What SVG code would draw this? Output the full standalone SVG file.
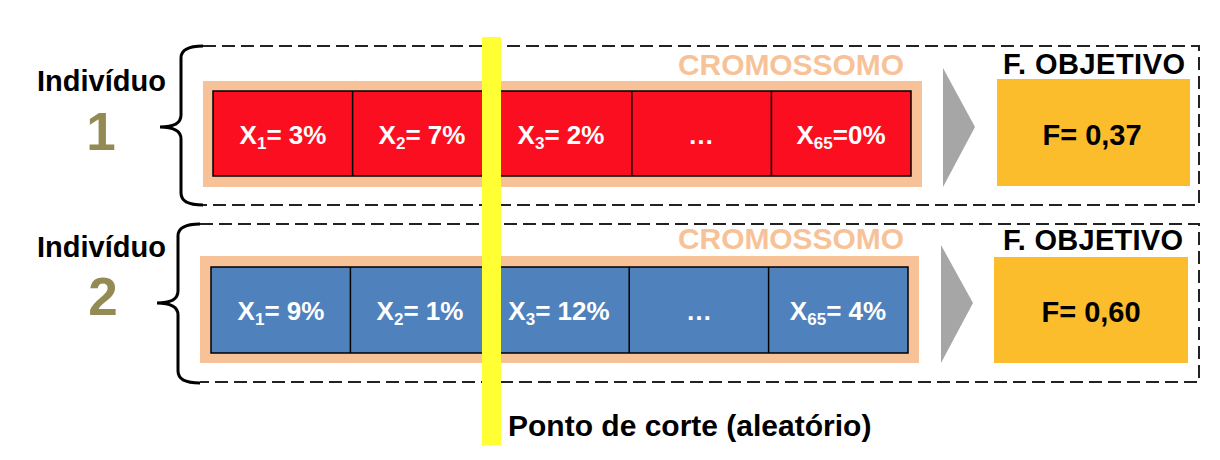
<svg xmlns="http://www.w3.org/2000/svg" width="1220" height="460" viewBox="0 0 1220 460">
<style>
text{font-family:"Liberation Sans",Arial,sans-serif;font-weight:bold}
.lbl{font-size:29px;fill:#000}
.num{font-size:53px;fill:#948A54;text-anchor:middle}
.crom{font-size:30px;fill:#F8C298}
.fo{font-size:29px;fill:#000}
.cell{font-size:26px;fill:#fff;text-anchor:middle}
.fval{font-size:29px;fill:#000;text-anchor:middle}
.dash{fill:none;stroke:#222;stroke-width:2;stroke-dasharray:13 6}
.brace{fill:none;stroke:#000;stroke-width:3}
.peach{fill:#F8C298}
.red{fill:#FB0E1F;stroke:#000;stroke-width:1.5}
.blue{fill:#4F81BD;stroke:#000;stroke-width:1.5}
.div{stroke:#000;stroke-width:1.5}
.tri{fill:#A6A6A6}
.gold{fill:#FBBD2C}
</style>

<g id="individuo1">
  <path class="dash" d="M203,46 H1199 V205 H203"/>
  <path class="brace" d="M203,46 Q181,46 181,58 V115 Q181,127 160,127 Q181,127 181,139 V193 Q181,205 203,205"/>
  <text class="lbl" x="37" y="91">Indivíduo</text>
  <text class="num" x="101" y="150">1</text>
  <text class="crom" x="678" y="75" textLength="226">CROMOSSOMO</text>
  <rect class="peach" x="203" y="81" width="719" height="106"/>
  <rect class="red" x="213" y="91" width="698" height="85"/>
  <line class="div" x1="352.6" y1="91" x2="352.6" y2="176"/>
  <line class="div" x1="492.2" y1="91" x2="492.2" y2="176"/>
  <line class="div" x1="631.8" y1="91" x2="631.8" y2="176"/>
  <line class="div" x1="771.4" y1="91" x2="771.4" y2="176"/>
  <text class="cell" x="283" y="144">X<tspan font-size="17" dy="5">1</tspan><tspan dy="-5">= 3%</tspan></text>
  <text class="cell" x="422" y="144">X<tspan font-size="17" dy="5">2</tspan><tspan dy="-5">= 7%</tspan></text>
  <text class="cell" x="561" y="144">X<tspan font-size="17" dy="5">3</tspan><tspan dy="-5">= 2%</tspan></text>
  <text class="cell" x="701" y="144">…</text>
  <text class="cell" x="841" y="144">X<tspan font-size="17" dy="5">65</tspan><tspan dy="-5">=0%</tspan></text>
  <polygon class="tri" points="943,68 975,127 943,187"/>
  <text class="fo" x="1003" y="74" textLength="182">F. OBJETIVO</text>
  <rect class="gold" x="997" y="79" width="193" height="107"/>
  <text class="fval" x="1092" y="145">F= 0,37</text>
</g>

<g id="individuo2">
  <path class="dash" d="M200,224 H1199 V382 H200"/>
  <path class="brace" d="M200,224 Q178,224 178,236 V291 Q178,303 157,303 Q178,303 178,315 V371 Q178,383 200,383"/>
  <text class="lbl" x="37" y="257">Indivíduo</text>
  <text class="num" x="103" y="315">2</text>
  <text class="crom" x="678" y="249" textLength="226">CROMOSSOMO</text>
  <rect class="peach" x="200" y="256" width="719" height="107"/>
  <rect class="blue" x="211" y="267" width="697" height="86"/>
  <line class="div" x1="350.4" y1="267" x2="350.4" y2="353"/>
  <line class="div" x1="489.8" y1="267" x2="489.8" y2="353"/>
  <line class="div" x1="629.2" y1="267" x2="629.2" y2="353"/>
  <line class="div" x1="768.6" y1="267" x2="768.6" y2="353"/>
  <text class="cell" x="281" y="320">X<tspan font-size="17" dy="5">1</tspan><tspan dy="-5">= 9%</tspan></text>
  <text class="cell" x="420" y="320">X<tspan font-size="17" dy="5">2</tspan><tspan dy="-5">= 1%</tspan></text>
  <text class="cell" x="559" y="320">X<tspan font-size="17" dy="5">3</tspan><tspan dy="-5">= 12%</tspan></text>
  <text class="cell" x="699" y="320">…</text>
  <text class="cell" x="838" y="320">X<tspan font-size="17" dy="5">65</tspan><tspan dy="-5">= 4%</tspan></text>
  <polygon class="tri" points="941,245 973,303 941,363"/>
  <text class="fo" x="1003" y="250" textLength="180">F. OBJETIVO</text>
  <rect class="gold" x="994" y="257" width="194" height="106"/>
  <text class="fval" x="1091" y="322">F= 0,60</text>
</g>

<g id="ponto-de-corte">
  <rect x="482" y="37" width="19" height="408" fill="#FFFF33"/>
  <text x="508" y="436" font-size="30" fill="#000">Ponto de corte (aleatório)</text>
</g>
</svg>
